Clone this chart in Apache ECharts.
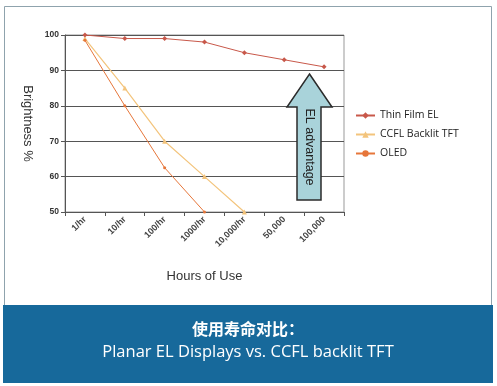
<!DOCTYPE html>
<html><head><meta charset="utf-8">
<script src="https://cdn.jsdelivr.net/npm/echarts@6/dist/echarts.min.js"></script>
<style>html,body{margin:0;padding:0;background:#fff}#c{width:497px;height:386px}</style>
</head><body><div id="c"></div>
<script>
var categories = ['1/hr','10/hr','100/hr','1000/hr','10,000/hr','50,000','100,000'];
var thinFilmEL = [100, 99, 99, 98, 95, 93, 91];
var ccflTFT = [99, 85, 70, 60, 50, null, null];
var oled = [98.5, 80, 62.5, 50, null, null, null];
var yTicks = {min: 50, max: 100, step: 10};

var chart = echarts.init(document.getElementById('c'));
var font = 'Liberation Sans';
chart.setOption({
  animation: false,
  backgroundColor: '#fff',
  grid: {left: 65, right: 153, top: 35, bottom: 174, show: true, borderColor: '#999', borderWidth: 1},
  legend: {
    orient: 'vertical', left: 350, top: 105, itemWidth: 19, itemHeight: 8, itemGap: 8,
    textStyle: {fontFamily: 'Open Sans', fontSize: 10.5, color: '#222'},
    data: ['Thin Film EL', 'CCFL Backlit TFT', 'OLED']
  },
  xAxis: {
    type: 'category', data: categories, boundaryGap: true,
    name: 'Hours of Use', nameLocation: 'middle', nameGap: 58,
    nameTextStyle: {fontFamily: font, fontSize: 13, color: '#333'},
    axisLine: {lineStyle: {color: '#555'}},
    axisTick: {show: true, length: 4, lineStyle: {color: '#555'}},
    axisLabel: {rotate: 45, fontFamily: font, fontSize: 9, fontWeight: 'bold', color: '#444', margin: 6}
  },
  yAxis: {
    type: 'value', min: yTicks.min, max: yTicks.max, interval: yTicks.step,
    name: 'Brightness %', nameLocation: 'middle', nameGap: 29, nameRotate: -90,
    nameTextStyle: {fontFamily: font, fontSize: 13, color: '#333'},
    axisLine: {show: true, lineStyle: {color: '#555'}},
    axisTick: {show: true, length: 4, lineStyle: {color: '#555'}},
    axisLabel: {fontFamily: font, fontSize: 8.5, fontWeight: 'bold', color: '#333', margin: 6},
    splitLine: {lineStyle: {color: '#555', width: 1}}
  },
  series: [
    {name: 'Thin Film EL', type: 'line', data: thinFilmEL, color: '#c8584a',
     symbol: 'diamond', symbolSize: 5, lineStyle: {width: 1}, z: 3},
    {name: 'CCFL Backlit TFT', type: 'line', data: ccflTFT, color: '#f3c47c',
     symbol: 'triangle', symbolSize: 5, lineStyle: {width: 1.2}, z: 2},
    {name: 'OLED', type: 'line', data: oled, color: '#e6763a',
     symbol: 'circle', symbolSize: 3, lineStyle: {width: 1}, z: 2}
  ],
  graphic: [
    {type: 'rect', shape: {x: 4.5, y: 6.5, width: 487, height: 299}, style: {fill: 'none', stroke: '#8fa3ad', lineWidth: 1}, z: 100},
    {type: 'rect', shape: {x: 3, y: 305, width: 490, height: 78}, style: {fill: '#17699b'}, z: 100},
    {type: 'text', x: 248, y: 329, style: {text: '使用寿命对比：', fill: '#fff', font: 'bold 16px "Noto Sans CJK SC"', align: 'center', verticalAlign: 'middle'}, z: 101},
    {type: 'text', x: 248, y: 352, style: {text: 'Planar EL Displays vs. CCFL backlit TFT', fill: '#fff', font: '16.5px "Open Sans"', align: 'center', verticalAlign: 'middle'}, z: 101},
    {type: 'polygon', shape: {points: [[309.5, 74], [332, 107], [321, 107], [321, 200], [297, 200], [297, 107], [287, 107]]},
     style: {fill: '#a9d3da', stroke: '#2b2b2b', lineWidth: 1.5}, z: 100},
    {type: 'text', x: 309, y: 147, rotation: -Math.PI / 2,
     style: {text: 'EL advantage', fill: '#222', font: '12.5px "Liberation Sans"', align: 'center', verticalAlign: 'middle'}, z: 101}
  ]
});
</script></body></html>
